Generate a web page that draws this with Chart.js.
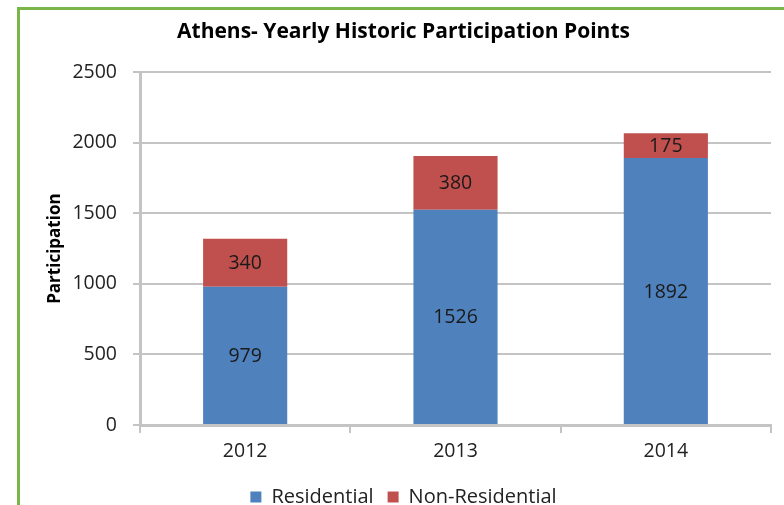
<!DOCTYPE html>
<html>
<head>
<meta charset="utf-8">
<script src="https://cdn.jsdelivr.net/npm/chart.js@4"></script>
<style>
  html, body { margin: 0; padding: 0; background: #fff; overflow: hidden; }
  #wrap { position: relative; width: 784px; height: 517px; }
  #frame { position: absolute; left: 17px; top: 7px; width: 800px; height: 520px;
           border: 3px solid #79b548; pointer-events: none; box-sizing: border-box; }
</style>
</head>
<body>
<div id="wrap">
  <canvas id="chart"></canvas>
  <div id="frame"></div>
</div>
<script>
// chart values
const years = ['2012', '2013', '2014'];
const residential = [979, 1526, 1892];
const nonResidential = [340, 380, 175];
const y_ticks = [0, 500, 1000, 1500, 2000, 2500];

const font_family = "'Open Sans', 'Liberation Sans', sans-serif";
const grid_color = '#c4c4c4';

// numbers printed in the middle of each bar piece
const bar_labels = {
    id: 'bar_labels',
    afterDatasetsDraw(chart) {
        let ctx = chart.ctx;
        ctx.save();
        ctx.font = '19.5px ' + font_family;
        ctx.fillStyle = '#1a1a1a';
        ctx.textAlign = 'center';
        ctx.textBaseline = 'middle';
        chart.data.datasets.forEach((ds, i) => {
            let meta = chart.getDatasetMeta(i);
            meta.data.forEach((bar, j) => {
                let mid = (bar.y + bar.base) / 2;
                ctx.fillText(String(ds.data[j]), bar.x, mid + 1);
            });
        });
        ctx.restore();
    }
};

let chart_data = {
    labels: years,
    datasets: [
        {
            label: 'Residential',
            data: residential,
            backgroundColor: '#4f81bd',
            barPercentage: 0.4,
            categoryPercentage: 1.0
        },
        {
            label: 'Non-Residential',
            data: nonResidential,
            backgroundColor: '#c0504d',
            barPercentage: 0.4,
            categoryPercentage: 1.0
        }
    ]
};

let option = {
    responsive: true,
    maintainAspectRatio: false,
    animation: false,
    layout: { padding: { left: 36, right: 13, top: 0, bottom: 0 } },
    plugins: {
        title: {
            display: true,
            text: 'Athens- Yearly Historic Participation Points',
            color: '#000',
            font: { family: font_family, size: 21, weight: 'bold' },
            padding: { top: 19, bottom: 28 }
        },
        legend: {
            position: 'bottom',
            labels: {
                boxWidth: 11,
                boxHeight: 11,
                padding: 14,
                color: '#222',
                font: { family: font_family, size: 20 }
            }
        },
        tooltip: { enabled: false }
    },
    scales: {
        x: {
            stacked: true,
            grid: {
                display: true,
                drawOnChartArea: false,
                drawTicks: true,
                tickLength: 8,
                color: grid_color,
                lineWidth: 2
            },
            border: { color: grid_color, width: 3 },
            ticks: {
                color: '#222',
                padding: 7,
                font: { family: font_family, size: 19.5 }
            },
            afterFit(scale) { scale.height = 48; }
        },
        y: {
            stacked: true,
            min: 0,
            max: 2500,
            afterBuildTicks(scale) { scale.ticks = y_ticks.map(v => ({ value: v })); },
            grid: {
                color: grid_color,
                lineWidth: 2,
                tickLength: 7
            },
            border: { color: grid_color, width: 3 },
            ticks: {
                color: '#222',
                padding: 16,
                font: { family: font_family, size: 19.5 },
                callback: (v) => String(v)
            },
            title: {
                display: true,
                text: 'Participation',
                color: '#000',
                padding: { top: 9, bottom: 0 },
                font: { family: font_family, size: 17, weight: 'bold' }
            },
            afterFit(scale) { scale.width = 104; }
        }
    }
};

let bar_chart = new Chart(document.getElementById('chart').getContext('2d'), {
    type: 'bar',
    data: chart_data,
    options: option,
    plugins: [bar_labels]
});
</script>
</body>
</html>
